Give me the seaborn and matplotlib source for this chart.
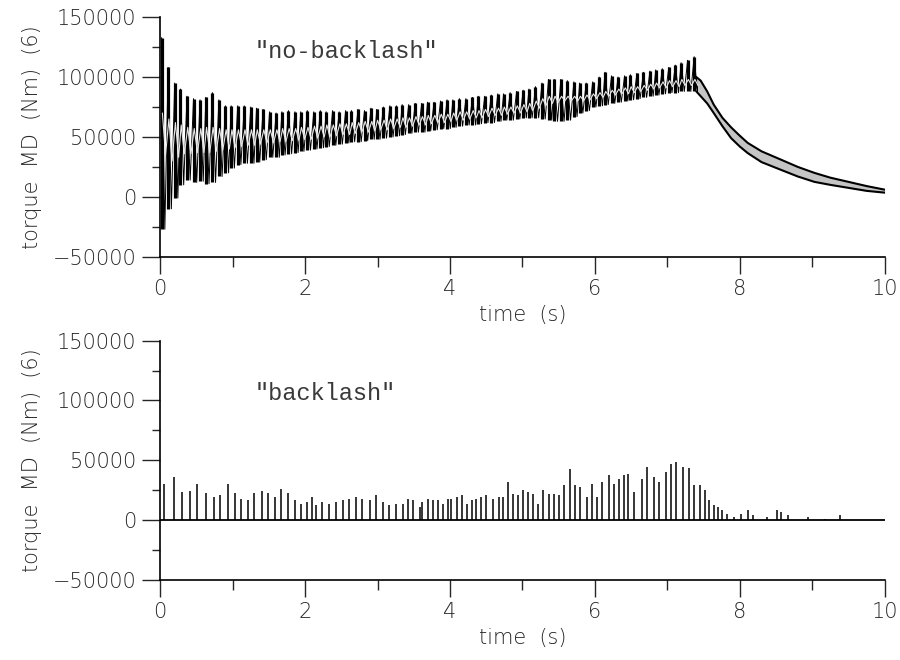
import numpy as np
import pandas as pd
import matplotlib
matplotlib.use("Agg")
import matplotlib.pyplot as plt
import seaborn as sns
from matplotlib.ticker import MultipleLocator

# ---------------- data ----------------
# "no-backlash": oscillation cycles (time of peak, peak, trough) and inner grey trace
cyc_t = [0.02, 0.11, 0.20, 0.28, 0.37, 0.46, 0.55, 0.63, 0.72, 0.81,
         0.90, 0.98, 1.07, 1.16, 1.25, 1.33, 1.42, 1.51, 1.60, 1.68,
         1.77, 1.86, 1.94, 2.03, 2.12, 2.21, 2.29, 2.38, 2.47, 2.56,
         2.64, 2.73, 2.82, 2.91, 2.99, 3.08, 3.17, 3.26, 3.34, 3.43,
         3.52, 3.61, 3.69, 3.78, 3.87, 3.96, 4.04, 4.13, 4.22, 4.31,
         4.39, 4.48, 4.57, 4.66, 4.74, 4.83, 4.92, 5.01, 5.09, 5.18,
         5.27, 5.36, 5.44, 5.53, 5.62, 5.71, 5.79, 5.88, 5.97, 6.06,
         6.14, 6.23, 6.32, 6.41, 6.49, 6.58, 6.67, 6.76, 6.84, 6.93,
         7.02, 7.11, 7.19, 7.28, 7.37]
cyc_hi = [133000, 108000, 95000, 90000, 84000, 82000, 81000, 83000, 87000, 81000,
          76000, 76000, 76000, 76000, 75000, 74000, 73000, 71000, 70000, 71000,
          72000, 71000, 71000, 72000, 71000, 72000, 71000, 72000, 71000, 72000,
          72000, 73000, 72000, 74000, 73000, 75000, 76000, 76000, 77000, 77000,
          78000, 78000, 79000, 79000, 80000, 81000, 81000, 82000, 82000, 83000,
          84000, 84000, 85000, 86000, 86000, 87000, 88000, 89000, 90000, 92000,
          95000, 98000, 98000, 98000, 97000, 96000, 95000, 95000, 96000, 100000,
          104000, 101000, 100000, 101000, 102000, 103000, 104000, 105000, 106000, 107000,
          108000, 110000, 112000, 114000, 117000]
cyc_lo = [-27000, -10000, -1000, 10000, 14000, 12000, 13000, 11000, 12000, 17000,
          20000, 24000, 27000, 28000, 28000, 29000, 31000, 33000, 33000, 35000,
          36000, 37000, 38000, 39000, 40000, 41000, 42000, 43000, 44000, 45000,
          46000, 46000, 47000, 48000, 48000, 49000, 50000, 51000, 52000, 53000,
          54000, 54000, 55000, 56000, 57000, 57000, 58000, 59000, 60000, 60000,
          61000, 62000, 62000, 63000, 64000, 64000, 65000, 66000, 66000, 66000,
          65000, 64000, 63000, 63000, 64000, 67000, 70000, 72000, 75000, 76000,
          77000, 78000, 79000, 80000, 81000, 82000, 83000, 84000, 85000, 86000,
          87000, 87000, 88000, 88000, 88000]
grey_hi = [70000, 65000, 62000, 60000, 58000, 57000, 57000, 58000, 58000, 57000,
           56000, 56000, 56000, 56000, 56000, 56000, 56000, 56000, 56000, 57000,
           57000, 57000, 58000, 58000, 59000, 59000, 60000, 60000, 61000, 61000,
           62000, 62000, 63000, 63000, 64000, 64000, 65000, 65000, 66000, 66000,
           67000, 67000, 68000, 68000, 69000, 69000, 70000, 71000, 71000, 72000,
           72000, 73000, 74000, 74000, 75000, 75000, 76000, 77000, 78000, 80000,
           82000, 84000, 84000, 84000, 84000, 84000, 84000, 85000, 86000, 87000,
           88000, 89000, 90000, 91000, 92000, 92000, 93000, 94000, 95000, 96000,
           97000, 97000, 98000, 98000, 98000]
grey_lo = [35000, 30000, 33000, 36000, 36000, 37000, 37000, 37000, 38000, 39000,
           40000, 41000, 42000, 43000, 43000, 44000, 45000, 45000, 46000, 46000,
           47000, 47000, 48000, 48000, 49000, 50000, 50000, 51000, 52000, 52000,
           53000, 54000, 54000, 55000, 56000, 56000, 57000, 58000, 58000, 59000,
           60000, 60000, 61000, 62000, 62000, 63000, 64000, 64000, 65000, 66000,
           66000, 67000, 68000, 68000, 69000, 70000, 70000, 71000, 72000, 74000,
           76000, 78000, 79000, 80000, 80000, 80000, 80000, 81000, 82000, 83000,
           84000, 85000, 86000, 86000, 87000, 88000, 89000, 90000, 91000, 91000,
           92000, 92000, 93000, 93000, 93000]
# decay band after the load is removed
dec_t = [7.40, 7.46, 7.55, 7.64, 7.76, 7.88, 8.00, 8.11, 8.30, 8.57,
         8.80, 9.03, 9.25, 9.50, 9.75, 10.0]
dec_hi = [100000, 97000, 88000, 77000, 66000, 58000, 51000, 45000, 38000, 31000,
          25000, 20000, 16000, 12500, 9000, 6000]
dec_lo = [88000, 84000, 78000, 70000, 59000, 49000, 42000, 36500, 29000, 22500,
          17000, 12500, 10000, 7500, 5000, 3500]

# "backlash": impact spikes (time, height)
spk_t = [0.05, 0.19, 0.30, 0.41, 0.51, 0.63, 0.74, 0.83, 0.93, 1.03,
         1.11, 1.21, 1.30, 1.40, 1.49, 1.58, 1.67, 1.77, 1.86, 1.94,
         2.03, 2.09, 2.15, 2.24, 2.33, 2.42, 2.52, 2.61, 2.70, 2.79,
         2.89, 2.98, 3.07, 3.16, 3.26, 3.35, 3.42, 3.49, 3.58, 3.62,
         3.69, 3.76, 3.83, 3.90, 3.97, 4.02, 4.09, 4.16, 4.23, 4.30,
         4.36, 4.43, 4.50, 4.60, 4.67, 4.73, 4.80, 4.87, 4.94, 5.01,
         5.08, 5.15, 5.22, 5.29, 5.36, 5.43, 5.50, 5.57, 5.66, 5.73,
         5.80, 5.89, 5.96, 6.03, 6.10, 6.19, 6.26, 6.33, 6.40, 6.45,
         6.54, 6.65, 6.72, 6.81, 6.88, 6.98, 7.05, 7.12, 7.21, 7.30,
         7.37, 7.45, 7.52, 7.58, 7.64, 7.70, 7.76, 7.83, 7.92, 8.02,
         8.11, 8.18, 8.38, 8.52, 8.57, 8.66, 8.94, 9.17, 9.38, 9.54]
spk_h = [30500, 36000, 23600, 24000, 30500, 23000, 19400, 21000, 30000, 23000,
         18000, 16700, 23000, 24400, 23000, 19400, 26400, 23000, 16700, 13900,
         15300, 19400, 12500, 15300, 13900, 15300, 16700, 18000, 19400, 18000,
         16700, 20800, 15300, 12500, 13900, 13900, 18000, 16700, 11100, 15300,
         18000, 16700, 16700, 13900, 18000, 18000, 19400, 20800, 13900, 16700,
         18000, 19400, 20800, 18000, 19400, 19400, 31900, 22200, 20800, 25000,
         23600, 22200, 13900, 25000, 22200, 22200, 20800, 29200, 43000, 29200,
         27800, 19400, 30500, 19400, 31900, 37500, 30500, 34700, 37500, 38900,
         23600, 34700, 44400, 36100, 31900, 40300, 47200, 48600, 44400, 44000,
         29200, 29200, 25000, 17200, 12500, 11100, 8300, 5600, 2800, 5600,
         8300, 4200, 2800, 8300, 6900, 4200, 2800, 1400, 4200, 500]

x_ticks = [0, 2, 4, 6, 8, 10]
y_ticks = [-50000, 0, 50000, 100000, 150000]
ylabel = "torque  MD  (Nm)  (6)"
xlabel = "time  (s)"
label_top = '"no-backlash"'
label_bot = '"backlash"'

# ---------------- styling ----------------
sns.set_theme(style="ticks")
plt.rcParams["font.family"] = ["DejaVu Sans"]
plt.rcParams["font.weight"] = "light"
plt.rcParams["axes.edgecolor"] = "black"
plt.rcParams["axes.linewidth"] = 1.2

fig = plt.figure(figsize=(9.0, 6.6), dpi=100)
ax1 = fig.add_axes([0.178, 0.611, 0.805, 0.363])
ax2 = fig.add_axes([0.178, 0.121, 0.805, 0.363])

half = 0.044
zx, zy, gx, gy = [], [], [], []
for t, h, l, gh, gl in zip(cyc_t, cyc_hi, cyc_lo, grey_hi, grey_lo):
    zx += [t, t + half]
    zy += [h, l]
    gx += [t + 0.01, t + half + 0.01]
    gy += [gh, gl]
zx.append(dec_t[0]); zy.append(dec_hi[0])

df_osc = pd.DataFrame({"t": zx, "v": zy})
df_grey = pd.DataFrame({"t": gx, "v": gy})
# thin connecting trace
sns.lineplot(data=df_osc, x="t", y="v", sort=False, estimator=None,
             color="black", lw=0.7, ax=ax1)
# heavy near-vertical strokes of each oscillation cycle
ax1.vlines(cyc_t, cyc_lo, cyc_hi, color="black", lw=2.3)
sns.lineplot(data=df_grey, x="t", y="v", sort=False, estimator=None,
             color="#e6e6e6", lw=0.8, ax=ax1)
ax1.fill_between(dec_t, dec_lo, dec_hi, color="#c4c4c4", lw=0)
sns.lineplot(x=dec_t, y=dec_hi, color="black", lw=1.5, ax=ax1)
sns.lineplot(x=dec_t, y=dec_lo, color="black", lw=1.5, ax=ax1)

# bottom: baseline + spikes
sns.lineplot(x=[0, 10], y=[0, 0], color="black", lw=1.3, ax=ax2)
ax2.vlines(spk_t, 0, spk_h, color="black", lw=1.1)

for ax, txt, ty in ((ax1, label_top, 121000), (ax2, label_bot, 106000)):
    ax.set_xlim(0, 10)
    ax.set_ylim(-50000, 150000)
    ax.set_xticks(x_ticks)
    ax.set_yticks(y_ticks)
    ax.xaxis.set_minor_locator(MultipleLocator(1))
    ax.yaxis.set_minor_locator(MultipleLocator(25000))
    ax.set_xticklabels([str(v) for v in x_ticks], fontsize=15, fontweight="light")
    ax.set_yticklabels([f"{v:d}".replace("-", "\u2212") for v in y_ticks],
                       fontsize=15, fontweight="light")
    ax.tick_params(axis="y", which="major", direction="out", length=13, width=1.0, pad=4)
    ax.tick_params(axis="y", which="minor", direction="out", length=6, width=1.0)
    ax.tick_params(axis="x", which="major", direction="out", length=12, width=1.0, pad=4)
    ax.tick_params(axis="x", which="minor", direction="out", length=7, width=1.0)
    ax.set_xlabel(xlabel, fontsize=15, fontweight="light", labelpad=4)
    ax.set_ylabel(ylabel, fontsize=15, fontweight="light", labelpad=8)
    sns.despine(ax=ax)
    ax.text(1.30, ty, txt, family=["Liberation Mono", "DejaVu Sans Mono"],
            fontsize=17, color="#3a3a3a", va="center", ha="left")

fig.savefig("out.png", dpi=100, facecolor="white")
